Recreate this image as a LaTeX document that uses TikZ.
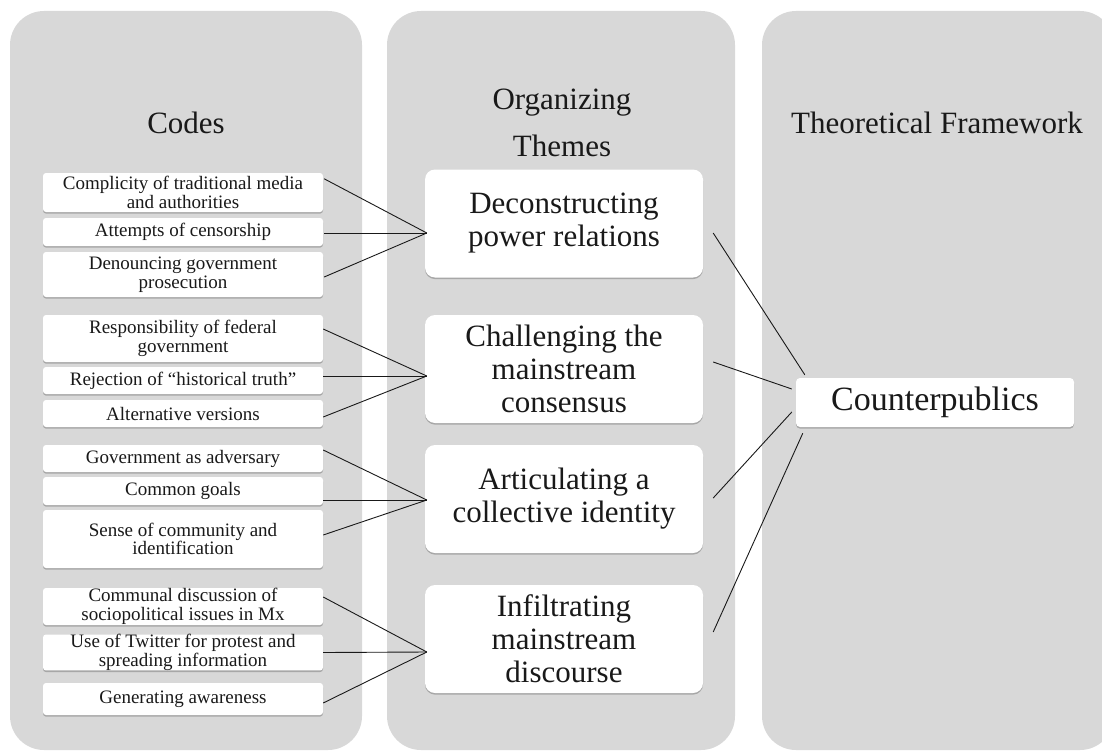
\documentclass[tikz,border=0pt]{standalone}
\usepackage{fontspec}
\setmainfont{Liberation Serif}
\usetikzlibrary{calc,shadows}
\definecolor{panelgray}{RGB}{216,216,216}
\definecolor{inkc}{RGB}{25,25,25}
\tikzset{
  panel/.style={fill=panelgray, draw=none, rounded corners=34pt},
  shade/.style={drop shadow={shadow xshift=0pt, shadow yshift=-1.6pt, opacity=0.35, fill=black!70}},
  codebox/.style={fill=white, draw=none, rounded corners=3pt, shade, minimum width=280pt,
    inner xsep=0pt, inner ysep=0pt, align=center, text=inkc, font=\fontsize{19}{18.5}\selectfont},
  themebox/.style={fill=white, draw=none, rounded corners=10pt, shade, minimum width=278pt,
    minimum height=108pt, inner sep=0pt, align=center, text=inkc, font=\fontsize{31}{33}\selectfont},
  cpbox/.style={fill=white, draw=none, rounded corners=4pt, shade, minimum width=278pt,
    minimum height=49pt, inner sep=0pt, text=inkc, font=\fontsize{34}{36}\selectfont},
  paneltitle/.style={inner sep=0pt, text=inkc, font=\fontsize{31}{47}\selectfont, align=center},
  link/.style={draw=inkc, line width=0.9pt}
}
\begin{document}
\begin{tikzpicture}[x=1pt,y=-1pt]
\useasboundingbox (0,0) rectangle (1102,752);
% panels
\fill[panel] (10,11) rectangle (362,750);
\fill[panel] (387,11) rectangle (735,750);
\fill[panel] (762,11) rectangle (1114,750);
% titles
\node[paneltitle, anchor=base] (tc) at (186,133) {Codes};
\node[paneltitle, anchor=north] (to) at (562,88.5) {Organizing\\Themes};
\node[paneltitle, anchor=base] (tf) at (937,133) {Theoretical Framework};
% code boxes
\node[codebox, minimum height=39pt] (c1) at (183,192.5) {Complicity of traditional media\\and authorities};
\node[codebox, minimum height=28pt] (c2) at (183,232) {Attempts of censorship};
\node[codebox, minimum height=45pt] (c3) at (183,274.5) {Denouncing government\\prosecution};
\node[codebox, minimum height=47pt] (c4) at (183,338.5) {Responsibility of federal\\government};
\node[codebox, minimum height=27pt] (c5) at (183,380.5) {Rejection of “historical truth”};
\node[codebox, minimum height=27pt] (c6) at (183,413.5) {Alternative versions};
\node[codebox, minimum height=27pt] (c7) at (183,458.5) {Government as adversary};
\node[codebox, minimum height=28pt] (c8) at (183,491) {Common goals};
\node[codebox, minimum height=58pt] (c9) at (183,539) {Sense of community and\\identification};
\node[codebox, minimum height=37pt] (c10) at (183,606.5) {Communal discussion of\\sociopolitical issues in Mx};
\node[codebox, minimum height=35pt] (c11) at (183,652.5) {Use of Twitter for protest and\\spreading information};
\node[codebox, minimum height=32pt] (c12) at (183,699) {Generating awareness};
% theme boxes
\node[themebox] (t1) at (564,223.5) {Deconstructing\\power relations};
\node[themebox] (t2) at (564,369) {Challenging the\\mainstream\\consensus};
\node[themebox] (t3) at (564,499) {Articulating a\\collective identity};
\node[themebox] (t4) at (564,639) {Infiltrating\\mainstream\\discourse};
% counterpublics
\node[cpbox] (cp) at (935,402.5) {Counterpublics};
% convergence points
\coordinate (k1) at ($(t1.west)+(2,9.5)$);
\coordinate (k2) at ($(t2.west)+(2,7)$);
\coordinate (k3) at ($(t3.west)+(2,1)$);
\coordinate (k4) at ($(t4.west)+(2,13)$);
% code -> theme links
\draw[link] ($(c1.north east)+(1,6)$) -- (k1);
\draw[link] ($(c2.east)+(1,1)$) -- (k1);
\draw[link] ($(c3.east)+(1,2.5)$) -- (k1);
\draw[link] ($(c4.east)+(0,-9.5)$) -- (k2);
\draw[link] ($(c5.east)+(0,-4.5)$) -- (k2);
\draw[link] ($(c6.east)+(0,3.5)$) -- (k2);
\draw[link] ($(c7.east)+(0,-8.5)$) -- (k3);
\draw[link] ($(c8.east)+(0,9)$) -- (k3);
\draw[link] ($(c9.east)+(0,-4)$) -- (k3);
\draw[link] ($(c10.east)+(0,-9.5)$) -- (k4);
\draw[link] ($(c11.east)+(0,0)$) -- (k4);
\draw[link] ($(c12.east)+(0,4)$) -- (k4);
% theme -> counterpublics links
\draw[link] ($(t1.east)+(10,9.5)$) -- ($(cp.north west)+(9,-3)$);
\draw[link] ($(t2.east)+(10,-7)$) -- ($(cp.west)+(-4,-13.5)$);
\draw[link] ($(t3.east)+(10,-1)$) -- ($(cp.west)+(-4,9.5)$);
\draw[link] ($(t4.east)+(10,-7)$) -- ($(cp.south west)+(7,6)$);
\end{tikzpicture}
\end{document}
